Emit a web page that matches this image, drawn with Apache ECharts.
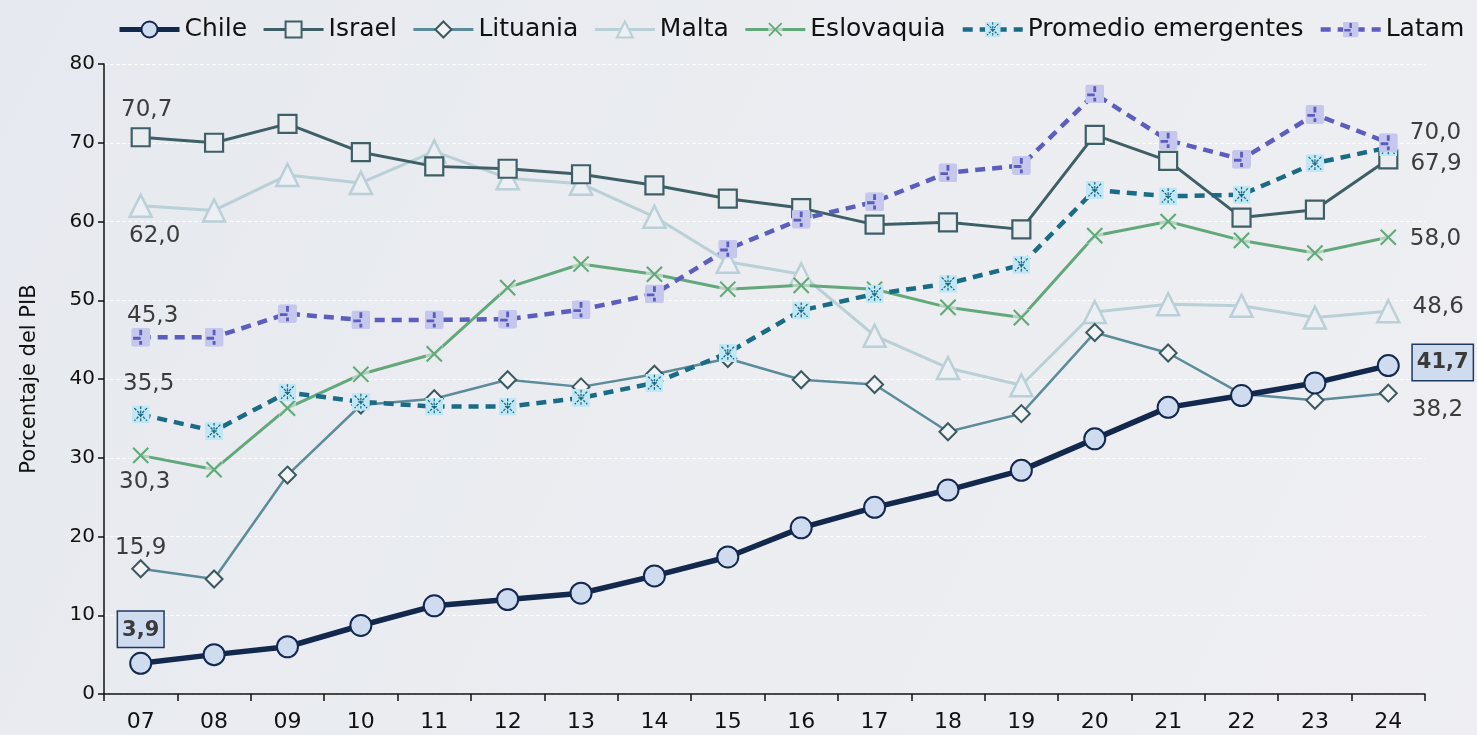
<!DOCTYPE html>
<html>
<head>
<meta charset="utf-8">
<script src="https://cdn.jsdelivr.net/npm/echarts@6/dist/echarts.min.js"></script>
<style>
html,body{margin:0;padding:0;background:#eaecf1;}
#c{width:1477px;height:735px;}
</style>
</head>
<body>
<div id="c"></div>
<script>
const years = ['07','08','09','10','11','12','13','14','15','16','17','18','19','20','21','22','23','24'];
const chile = [3.9,5.0,6.0,8.7,11.2,12.0,12.8,15.0,17.4,21.1,23.7,25.9,28.4,32.4,36.4,37.9,39.5,41.7];
const israel = [70.7,70.0,72.4,68.8,67.0,66.7,66.0,64.6,62.9,61.7,59.6,59.9,59.0,71.0,67.7,60.5,61.5,67.9];
const lituania = [15.9,14.6,27.8,36.7,37.5,39.9,39.0,40.6,42.6,39.9,39.3,33.3,35.6,45.9,43.3,38.1,37.3,38.2];
const malta = [62.0,61.4,65.9,64.9,68.9,65.5,64.8,60.6,54.9,53.3,45.5,41.4,39.2,48.5,49.5,49.3,47.8,48.6];
const eslovaquia = [30.3,28.5,36.3,40.6,43.2,51.6,54.6,53.3,51.4,51.9,51.4,49.1,47.8,58.2,60.0,57.6,56.0,58.0];
const promedio = [35.5,33.4,38.3,37.1,36.5,36.5,37.6,39.5,43.3,48.7,50.8,52.1,54.5,64.0,63.2,63.4,67.4,69.4];
const latam = [45.3,45.3,48.3,47.5,47.5,47.6,48.8,50.8,56.5,60.3,62.5,66.2,67.1,76.2,70.3,67.9,73.6,70.0];
const names = ['Chile','Israel','Lituania','Malta','Eslovaquia','Promedio emergentes','Latam'];

const FONT = '"DejaVu Sans", sans-serif';
const fmt = v => v.toFixed(1).replace('.', ',');
const svg = s => 'image://data:image/svg+xml;charset=utf-8,' + encodeURIComponent(s);

const xSym = svg('<svg xmlns="http://www.w3.org/2000/svg" width="20" height="20" viewBox="0 0 20 20"><rect x="1" y="1" width="18" height="18" fill="#e6efe9" opacity="0.6"/><path d="M2,2L18,18M18,2L2,18" stroke="#62a87a" stroke-width="2.2" fill="none"/></svg>');
const promSym = svg('<svg xmlns="http://www.w3.org/2000/svg" width="20" height="20" viewBox="0 0 20 20"><rect x="0" y="0" width="20" height="20" fill="#c0e7f3"/><path d="M10,1V19M3,3L17,17M17,3L3,17" stroke="#1a6b85" stroke-width="1.4" stroke-dasharray="3,1.5" fill="none"/><path d="M7,10H13" stroke="#1a6b85" stroke-width="1.4"/></svg>');
const latSym = svg('<svg xmlns="http://www.w3.org/2000/svg" width="20" height="20" viewBox="0 0 20 20"><rect x="0" y="0" width="20" height="20" rx="3" fill="#c6c7ec"/><path d="M2,11H10M10,2V8M10,14V18" stroke="#5a5cbf" stroke-width="3" fill="none"/></svg>');

const labelBase = {show:true, fontFamily: FONT, fontSize: 23, color:'#3c3c3c', formatter: p => fmt(p.value)};

function mk(values, firstLabel, lastLabel) {
  return values.map((v, i) => {
    const d = {value: v};
    if (i === 0 && firstLabel) d.label = Object.assign({}, labelBase, firstLabel);
    if (i === values.length - 1 && lastLabel) d.label = Object.assign({}, labelBase, lastLabel);
    return d;
  });
}

const boxLabel = {backgroundColor:'#cfdcf0', borderColor:'#1f3a5f', borderWidth:1.5, padding:[8,4,6,4], fontWeight:'bold', fontSize:21, color:'#3a3a3a'};

const series = [
  {name:'Chile', type:'line', z:10, data: mk(chile,
      Object.assign({position:'top', distance:5}, boxLabel),
      Object.assign({position:'right', distance:13, offset:[0,-3]}, boxLabel)),
   symbol:'circle', symbolSize:21,
   lineStyle:{color:'#13284d', width:5.5},
   itemStyle:{color:'#cfdcf0', borderColor:'#13284d', borderWidth:2}},
  {name:'Israel', type:'line', z:6, data: mk(israel,
      {position:'top', distance:10, offset:[6,4]},
      {position:'right', distance:12, offset:[0,5]}),
   symbol:'rect', symbolSize:18,
   lineStyle:{color:'#3e5f66', width:3},
   itemStyle:{color:'#e9edf0', borderColor:'#3e5f66', borderWidth:2.2}},
  {name:'Lituania', type:'line', z:5, data: mk(lituania,
      {position:'top', distance:8, offset:[0,8]},
      {position:'right', distance:14, offset:[0,17]}),
   symbol:'diamond', symbolSize:17,
   lineStyle:{color:'#5c8b99', width:2.5},
   itemStyle:{color:'#f2f3f5', borderColor:'#3b5a60', borderWidth:2}},
  {name:'Malta', type:'line', z:4, data: mk(malta,
      {position:'bottom', distance:6, offset:[14,1]},
      {position:'right', distance:12, offset:[0,-4]}),
   symbol:'triangle', symbolSize:22,
   lineStyle:{color:'#b9d0d6', width:3},
   itemStyle:{color:'#eceff3', borderColor:'#b9d0d6', borderWidth:2.5}},
  {name:'Eslovaquia', type:'line', z:5, data: mk(eslovaquia,
      {position:'bottom', distance:6, offset:[4,0]},
      {position:'right', distance:12, offset:[0,2]}),
   symbol: xSym, symbolSize:19,
   lineStyle:{color:'#62a87a', width:3},
   itemStyle:{color:'#62a87a'}},
  {name:'Promedio emergentes', type:'line', z:7, data: mk(promedio,
      {position:'top', distance:10, offset:[8,0]}, null),
   symbol: promSym, symbolSize:18,
   lineStyle:{color:'#1a6b85', width:4.5, type:[10,7]},
   itemStyle:{color:'#1a6b85'}},
  {name:'Latam', type:'line', z:8, data: mk(latam,
      {position:'top', distance:6, offset:[12,6]},
      {position:'right', distance:12, offset:[0,-10]}),
   symbol: latSym, symbolSize:19,
   lineStyle:{color:'#5b5dbf', width:4.5, type:[10,7]},
   itemStyle:{color:'#5b5dbf'}}
];

const legendWidths = {'Chile':5,'Israel':3,'Lituania':3,'Malta':3,'Eslovaquia':3,'Promedio emergentes':4.5,'Latam':4.5};
const legendData = names.map(n => ({name:n, lineStyle:{width: legendWidths[n]}}));

const chart = echarts.init(document.getElementById('c'));
chart.setOption({
  animation:false,
  backgroundColor:{type:'linear', x:0, y:0, x2:1, y2:1, colorStops:[{offset:0,color:'#e6e9ef'},{offset:0.5,color:'#ebedf1'},{offset:1,color:'#efeff3'}]},
  textStyle:{fontFamily: FONT},
  legend:{
    data: legendData, left:112, top:12, itemWidth:60, itemHeight:20, itemGap:15,
    textStyle:{fontFamily: FONT, fontSize:25, color:'#111'}
  },
  grid:{left:104, right:52, top:64, bottom:41, containLabel:false},
  xAxis:{
    type:'category', data: years, boundaryGap:true,
    axisLine:{lineStyle:{color:'#111', width:1.5}},
    axisTick:{show:true, length:7, lineStyle:{color:'#111', width:1.5}},
    axisLabel:{fontFamily: FONT, fontSize:22, color:'#111', margin:17}
  },
  yAxis:{
    type:'value', min:0, max:80, interval:10,
    name:'Porcentaje del PIB', nameLocation:'middle', nameGap:64, nameRotate:90,
    nameTextStyle:{fontFamily: FONT, fontSize:21, color:'#111'},
    axisLine:{show:true, lineStyle:{color:'#111', width:1.5}},
    axisTick:{show:true, length:6, lineStyle:{color:'#111', width:1.5}},
    axisLabel:{fontFamily: FONT, fontSize:20, color:'#111', margin:9},
    splitLine:{show:true, lineStyle:{color:'rgba(255,255,255,0.85)', type:'dashed', width:1}}
  },
  series: series
});
</script>
</body>
</html>
